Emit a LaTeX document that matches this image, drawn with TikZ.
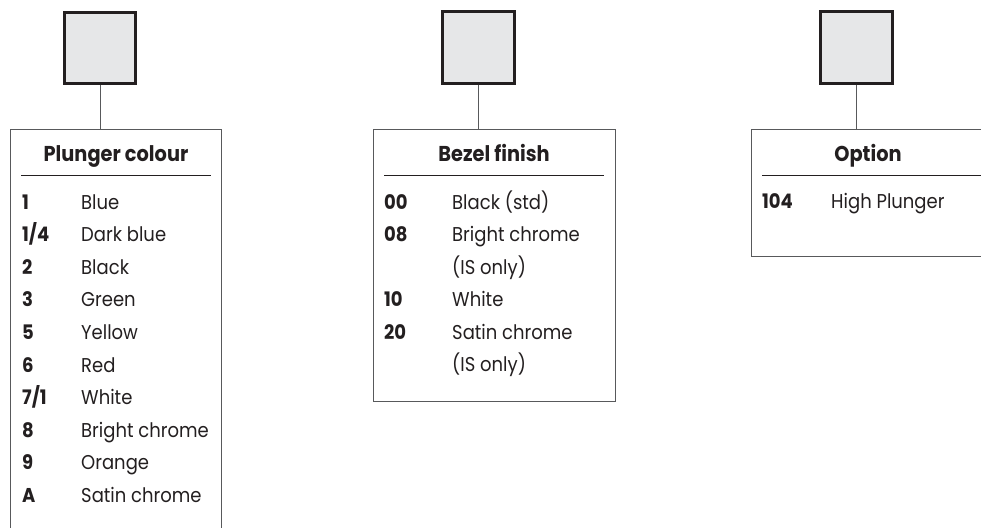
\documentclass[tikz,border=0pt]{standalone}
\usepackage{fontspec}
\setmainfont{Poppins}[FakeStretch=0.9]
\usetikzlibrary{calc}
\definecolor{sqfill}{HTML}{E6E7E8}
\definecolor{sqline}{HTML}{231F20}
\definecolor{boxline}{HTML}{58595B}
\begin{document}
\begin{tikzpicture}[x=1pt,y=-1pt,
  sq/.style={draw=sqline, line width=2.6pt, fill=sqfill, minimum size=71.5pt, inner sep=0pt},
  panel/.style={draw=boxline, line width=1pt, inner sep=0pt, anchor=north west},
  link/.style={draw=boxline, line width=1pt},
  rulel/.style={draw=sqline, line width=0.9pt},
  head/.style={font=\fontsize{21.5}{24}\selectfont\bfseries, anchor=base, inner sep=0pt, text=sqline},
  codet/.style={font=\fontsize{20}{22}\selectfont\bfseries, anchor=base west, inner sep=0pt, text=sqline},
  itemt/.style={font=\fontsize{20}{22}\selectfont, anchor=base west, inner sep=0pt, text=sqline}]
\clip (0,0) rectangle (981,527);
% squares
\node[sq] (s1) at (100,48) {};
\node[sq] (s2) at (478.5,47.5) {};
\node[sq] (s3) at (856.5,47.5) {};
% panels
\node[panel, minimum width=211pt, minimum height=450pt] (p1) at (10,129) {};
\node[panel, minimum width=242pt, minimum height=272pt] (p2) at (373,129) {};
\node[panel, minimum width=240pt, minimum height=127pt] (p3) at (751,129) {};
% connectors
\draw[link] (s1.south) -- (s1.south |- p1.north);
\draw[link] (s2.south) -- (s2.south |- p2.north);
\draw[link] (s3.south) -- (s3.south |- p3.north);
% headings
\node[head] (h1) at (116,161) {Plunger colour};
\node[head] (h2) at (494,161) {Bezel finish};
\node[head] (h3) at (868,161) {Option};
% rules
\draw[rulel] ($(p1.north west)+(11,46)$) -- ($(p1.north east)+(-11,46)$);
\draw[rulel] ($(p2.north west)+(11,46)$) -- ($(p2.north east)+(-12,46)$);
\draw[rulel] ($(p3.north west)+(11,46)$) -- ($(p3.north east)+(0,46)$);
% rows panel 1
\foreach \c/\t [count=\i from 0] in {1/Blue,{1/4}/Dark blue,2/Black,3/Green,5/Yellow,6/Red,{7/1}/White,8/Bright chrome,9/Orange,A/Satin chrome}{
  \node[codet] (a\i) at (22,209+32.6*\i) {\c};
  \node[itemt] (b\i) at (81,209+32.6*\i) {\t};
}
% rows panel 2
\foreach \c/\t [count=\i from 0] in {00/Black (std),08/Bright chrome,{}/(IS only),10/White,20/Satin chrome,{}/(IS only)}{
  \node[codet] (c\i) at (384,209+32.5*\i) {\c};
  \node[itemt] (d\i) at (452,209+32.5*\i) {\t};
}
% rows panel 3
\node[codet] (e0) at (762,208) {104};
\node[itemt] (f0) at (831,208) {High Plunger};
\end{tikzpicture}
\end{document}
